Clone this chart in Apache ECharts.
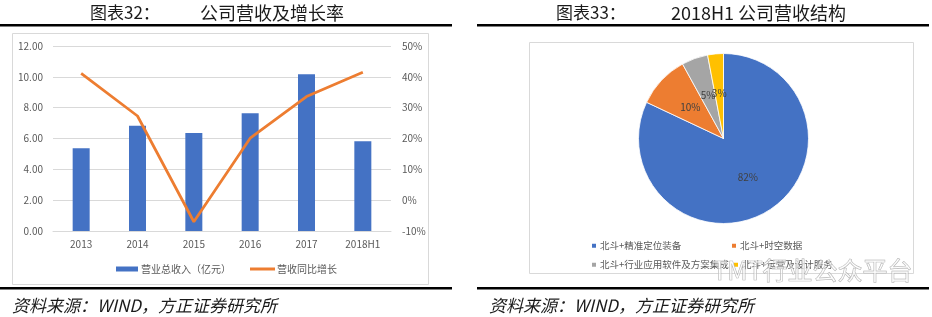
<!DOCTYPE html>
<html><head><meta charset="utf-8">
<script src="https://cdn.jsdelivr.net/npm/echarts@6/dist/echarts.min.js"></script>
<style>html,body{margin:0;padding:0;background:#fff}#c{width:932px;height:317px}</style>
</head><body><div id="c"></div>
<script>
const categories = ['2013','2014','2015','2016','2017','2018H1'];
const revenue = [5.36, 6.83, 6.36, 7.63, 10.16, 5.82];
const growth = [41.1, 27.3, -7.0, 20.1, 33.6, 41.5];
const leftTicks = {min: 0, max: 12, interval: 2};
const rightTicks = {min: -10, max: 50, interval: 10};
const pieNames = ['北斗+精准定位装备', '北斗+时空数据', '北斗+行业应用软件及方案集成', '北斗+运营及设计服务'];
const pieValues = [82, 10, 5, 3];
const pieColors = ['#4472C4', '#ED7D31', '#A5A5A5', '#FFC000'];

const FONT = '"Noto Sans CJK SC", "Noto Sans", sans-serif';
const chart = echarts.init(document.getElementById('c'), null, {renderer: 'canvas'});

const legendPos = [[585, 236], [725, 236], [585, 255], [727, 255]];
const pieLegends = pieNames.map((n, i) => ({
  data: [n], left: legendPos[i][0], top: legendPos[i][1],
  icon: 'rect', itemWidth: 6, itemHeight: 6, itemGap: 0,
  textStyle: {fontSize: 9.5, color: '#595959', fontFamily: FONT, padding: [0, 0, 0, -2]}
}));

const option = {
  animation: false,
  backgroundColor: '#fff',
  textStyle: {fontFamily: FONT},
  grid: {left: 53, right: 932 - 391, top: 46, bottom: 317 - 231, containLabel: false},
  xAxis: {
    type: 'category', data: categories,
    axisLine: {lineStyle: {color: '#D9D9D9'}},
    axisTick: {show: false},
    axisLabel: {color: '#595959', fontSize: 10, margin: 8, fontFamily: FONT}
  },
  yAxis: [{
    type: 'value', min: leftTicks.min, max: leftTicks.max, interval: leftTicks.interval,
    axisLabel: {color: '#595959', fontSize: 10, margin: 10, formatter: v => v.toFixed(2), fontFamily: FONT},
    splitLine: {lineStyle: {color: '#D9D9D9'}},
    axisLine: {show: false}, axisTick: {show: false}
  }, {
    type: 'value', min: rightTicks.min, max: rightTicks.max, interval: rightTicks.interval,
    axisLabel: {color: '#595959', fontSize: 10, margin: 11, formatter: v => v + '%', fontFamily: FONT},
    splitLine: {show: false},
    axisLine: {show: false}, axisTick: {show: false}
  }],
  legend: [{
    data: ['营业总收入（亿元）'], icon: 'rect',
    left: 111, top: 259, itemWidth: 22, itemHeight: 5,
    textStyle: {fontSize: 10, color: '#595959', fontFamily: FONT, padding: [0, 0, 0, -2]}
  }, {
    data: ['营收同比增长'], icon: 'rect',
    left: 245, top: 259, itemWidth: 25, itemHeight: 3,
    textStyle: {fontSize: 10, color: '#595959', fontFamily: FONT, padding: [0, 0, 0, -3]}
  }].concat(pieLegends),
  series: [{
    name: '营业总收入（亿元）', type: 'bar', data: revenue, barWidth: 17,
    itemStyle: {color: '#4472C4'}
  }, {
    name: '营收同比增长', type: 'line', yAxisIndex: 1, data: growth,
    smooth: false, showSymbol: false, symbol: 'none',
    lineStyle: {color: '#ED7D31', width: 2.75}, itemStyle: {color: '#ED7D31'}
  }, {
    type: 'pie', center: [723.5, 138.5], radius: 85, startAngle: 90, clockwise: true,
    data: pieNames.map((n, i) => ({name: n, value: pieValues[i], itemStyle: {color: pieColors[i]}})),
    itemStyle: {borderColor: '#fff', borderWidth: 0.8},
    label: {show: true, position: 'inside', formatter: p => p.value + '%', color: '#404040', fontSize: 10, fontFamily: FONT},
    labelLine: {show: false},
    labelLayout: {hideOverlap: false},
    minShowLabelAngle: 0,
    avoidLabelOverlap: false,
    emphasis: {disabled: true}
  }],
  graphic: [
    {type: 'rect', shape: {x: 12.5, y: 33.5, width: 416, height: 251}, style: {fill: 'none', stroke: '#D9D9D9', lineWidth: 1}, z: -1},
    {type: 'rect', shape: {x: 529.5, y: 42.5, width: 384, height: 231}, style: {fill: 'none', stroke: '#D9D9D9', lineWidth: 1}, z: -1},
    {type: 'rect', shape: {x: 0, y: 24, width: 452, height: 2.5}, style: {fill: '#000'}},
    {type: 'rect', shape: {x: 477, y: 24, width: 452, height: 2.5}, style: {fill: '#000'}},
    {type: 'rect', shape: {x: 0, y: 287, width: 452, height: 2.5}, style: {fill: '#000'}},
    {type: 'rect', shape: {x: 477, y: 287, width: 452, height: 2.5}, style: {fill: '#000'}},
    {type: 'text', left: 90, top: 4, style: {text: '图表32：', font: '17px ' + FONT, fill: '#1a1a1a'}},
    {type: 'text', left: 200, top: 4, style: {text: '公司营收及增长率', font: '18px ' + FONT, fill: '#1a1a1a'}},
    {type: 'text', left: 556, top: 4, style: {text: '图表33：', font: '17px ' + FONT, fill: '#1a1a1a'}},
    {type: 'text', left: 671, top: 4, style: {text: '2018H1 公司营收结构', font: '18px ' + FONT, fill: '#1a1a1a'}},
    {type: 'text', left: 12, top: 297, style: {text: '资料来源：WIND，方正证券研究所', font: 'italic 17px ' + FONT, fill: '#1a1a1a'}},
    {type: 'text', left: 489, top: 297, style: {text: '资料来源：WIND，方正证券研究所', font: 'italic 17px ' + FONT, fill: '#1a1a1a'}},
    {type: 'text', left: 712, top: 258, style: {text: 'TMT行业公众平台', font: '25px ' + FONT, fill: 'rgba(255,255,255,0.5)', stroke: '#a8a8a8', lineWidth: 0.7}, z: 10}
  ]
};
chart.setOption(option);
</script></body></html>
